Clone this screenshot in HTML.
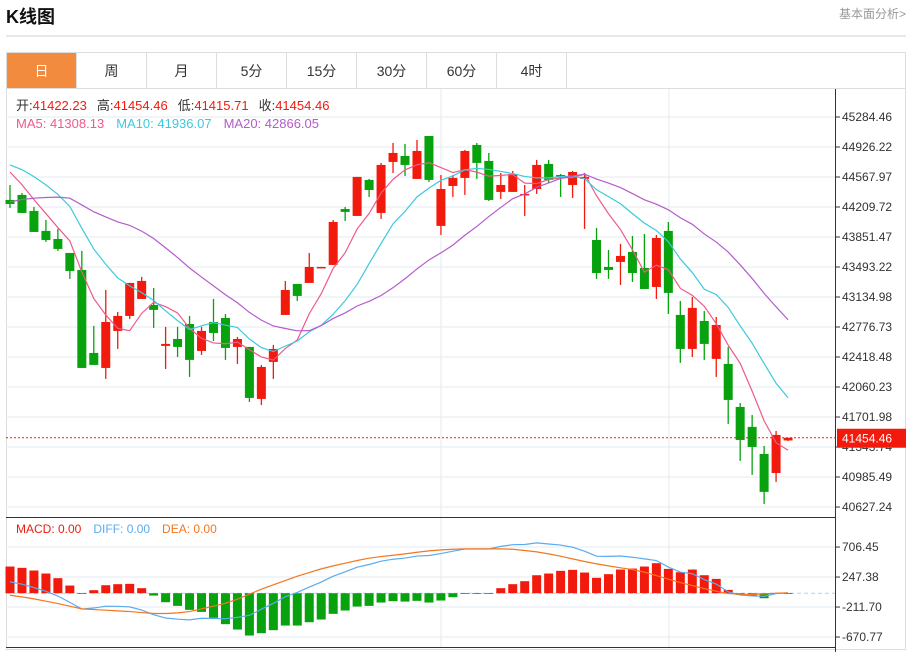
<!DOCTYPE html>
<html><head><meta charset="utf-8">
<style>
body{margin:0;background:#fff;width:911px;height:652px;overflow:hidden;font-family:"Liberation Sans","Noto Sans CJK SC",sans-serif;}
svg{position:absolute;left:0;top:0}
</style></head>
<body>
<svg id="c" width="911" height="652" xmlns="http://www.w3.org/2000/svg"></svg>
<script>
// ---- data ----
const categories = Array.from({length:66},(_,i)=>'D'+(i+1));
const opens  = [44294,44354,44163,43924,43828,43661,43458,42467,42288,42730,42909,43112,43040,42551,42634,42813,42491,42837,42885,42539,42539,41918,42360,42921,43291,43303,43482,43518,44186,44103,44533,44139,44748,44819,44545,45058,43984,44461,44557,44951,44760,44390,44390,44354,44425,44724,44592,44473,44545,43816,43494,43554,43673,43482,43255,43924,42921,42515,42849,42396,42336,41822,41584,41261,41034,41422.23];
const highs  = [44473,44378,44210,44055,43948,43661,43685,42790,43219,42957,43303,43375,43243,42778,42778,42909,42778,43112,42933,42658,42539,42324,42563,43327,43291,43661,43494,44055,44210,44569,44545,44736,44975,44963,45010,45058,44592,44592,44891,44975,44855,44616,44640,44473,44772,44772,44604,44640,44616,43960,43697,43769,43864,43888,43876,44031,43088,43136,42969,42897,42539,41870,41727,41357,41536,41454.46];
const lows   = [44198,44139,43912,43793,43685,43351,42288,42324,42157,42515,42873,43112,42766,42276,42419,42181,42443,42610,42384,42336,41882,41846,42157,42921,43088,43303,43482,43518,44043,44103,44330,44067,44616,44581,44545,44509,43876,44330,44354,44545,44282,44306,44390,44103,44366,44497,44330,44318,43948,43351,43351,43279,43315,43231,43112,42933,42348,42419,42384,42181,41619,41178,41011,40664,40927,41415.71];
const closes = [44246,44139,43912,43816,43709,43446,42288,42324,42837,42909,43303,43327,42981,42575,42539,42384,42730,42706,42527,42634,41930,42300,42515,43219,43148,43494,43494,44031,44151,44569,44413,44712,44855,44712,44879,44533,44425,44557,44879,44736,44294,44473,44604,44366,44712,44533,44569,44628,44569,43422,43458,43625,43422,43231,43840,43184,42515,43005,42575,42801,41906,41428,41345,40808,41488,41454.46];
// closes before the first visible bar (estimated from MA lines)
const priorCloses = [43550,43600,43650,43620,43700,43900,43980,44050,44100,44130,44700,44750,44800,44850,44880,44900,44800,44650,44544];
const priceTicks = ['45284.46','44926.22','44567.97','44209.72','43851.47','43493.22','43134.98','42776.73','42418.48','42060.23','41701.98','41343.74','40985.49','40627.24'];
const macdHist = [408,388,347,301,230,117,-5,46,122,138,143,77,-36,-138,-194,-255,-286,-377,-474,-556,-648,-612,-566,-495,-495,-444,-403,-316,-265,-204,-194,-143,-122,-128,-117,-143,-112,-61,-5,-3,-3,77,138,184,275,301,342,357,316,235,291,362,377,408,459,372,321,362,275,219,51,-26,-41,-77,-10,-4];
const deaVals = [-31,-56,-87,-122,-158,-199,-240,-250,-260,-270,-281,-296,-311,-311,-301,-281,-240,-199,-153,-92,-15,61,128,194,260,316,372,418,459,500,536,561,581,602,627,648,663,673,678,678,678,678,673,653,632,602,566,525,485,449,418,388,362,321,270,214,163,117,71,31,-5,-15,-20,-10,0,5];
const macdTicks = ['706.45','247.38','-211.70','-670.77'];

const svg=document.getElementById('c');
const NS='http://www.w3.org/2000/svg';
function mk(tag,attrs,parent){const e=document.createElementNS(NS,tag);for(const k in attrs)e.setAttribute(k,attrs[k]);(parent||svg).appendChild(e);return e;}
function txt(s,attrs){const e=mk('text',attrs);e.textContent=s;return e;}

// axis functions
const x=i=>10+i*11.97;
const yP=p=>117+(45284.46-p)/11.941;
const yM=v=>593.2-v/15.302;

// frame
let e;
e=txt('K线图',{x:6,y:23,'font-size':18,'font-weight':'bold',fill:'#111'});

e=txt('基本面分析>',{x:906,y:18,'font-size':12,fill:'#999','text-anchor':'end'});

mk('line',{x1:6,y1:36,x2:906,y2:36,stroke:'#d0d0d0','stroke-width':1});
mk('rect',{x:6.5,y:52.5,width:899,height:597,fill:'none',stroke:'#ddd'});
mk('line',{x1:6,y1:88.5,x2:906,y2:88.5,stroke:'#ddd'});
const tabs=['日','周','月','5分','15分','30分','60分','4时'];
tabs.forEach((t,i)=>{
  const g=mk('g',{});
  
  
  mk('rect',{x:7+i*70,y:53,width:69,height:35,fill:i===0?'#f28b3e':'#fff'},g);
  mk('line',{x1:76.5+i*70,y1:53,x2:76.5+i*70,y2:88,stroke:'#ddd'},g);
  const tt=mk('text',{x:41.5+i*70,y:76,'font-size':14,'text-anchor':'middle',fill:i===0?'#fff':'#333'},g);
  tt.textContent=t;
});

// grids
priceTicks.forEach((t,i)=>{
  const yy=yP(parseFloat(t));
  mk('line',{x1:6,y1:yy,x2:835,y2:yy,stroke:'#e4ebf1'});
  mk('line',{x1:835,y1:yy,x2:840,y2:yy,stroke:'#333'});
  const l=txt(t,{x:842,y:yy+4,'font-size':12,fill:'#333'});
  
  
});
macdTicks.forEach(t=>{
  const yy=yM(parseFloat(t));
  mk('line',{x1:6,y1:yy,x2:835,y2:yy,stroke:'#e4ebf1'});
  mk('line',{x1:835,y1:yy,x2:840,y2:yy,stroke:'#333'});
  const l=txt(t,{x:842,y:yy+4,'font-size':12,fill:'#333'});
  
  
});
[441,669].forEach(xx=>mk('line',{x1:xx,y1:89,x2:xx,y2:647,stroke:'#e4ebf1'}));
mk('line',{x1:835.5,y1:89,x2:835.5,y2:652,stroke:'#333'});
mk('line',{x1:6,y1:517.5,x2:835,y2:517.5,stroke:'#333'});
mk('line',{x1:6,y1:647.5,x2:835,y2:647.5,stroke:'#333'});
mk('line',{x1:6,y1:yM(0),x2:835,y2:yM(0),stroke:'#a8d8ee','stroke-dasharray':'4,3'});

// candles
for(let i=0;i<closes.length;i++){
  const up=closes[i]>=opens[i];
  const col=up?'#f21a0c':'#07a20d';
  const g=mk('g',{});
  
  
  mk('line',{x1:x(i),y1:yP(highs[i]),x2:x(i),y2:yP(lows[i]),stroke:col,'stroke-width':1.3},g);
  const t=yP(Math.max(opens[i],closes[i])),b=yP(Math.min(opens[i],closes[i]));
  mk('rect',{x:x(i)-4.5,y:t,width:9,height:Math.max(1.5,b-t),fill:col},g);
}
// MAs
const all=priorCloses.concat(closes);
function ma(n){return closes.map((_,i)=>{const j=i+priorCloses.length;let s=0;for(let k=j-n+1;k<=j;k++)s+=all[k];return s/n;});}
[[5,'#ef5a8a'],[10,'#3cc9dd'],[20,'#b45ccc']].forEach(([n,c])=>{
  const v=ma(n);
  const p=mk('polyline',{points:v.map((m,i)=>x(i)+','+yP(m)).join(' '),fill:'none',stroke:c,'stroke-width':1.2});
  
  
});
// current price
const last=closes[closes.length-1];
mk('line',{x1:6,y1:yP(last),x2:835,y2:yP(last),stroke:'#f21a0c','stroke-dasharray':'2,2'});
mk('rect',{x:837,y:yP(last)-9,width:69,height:19,fill:'#f21a0c'});
e=txt(last.toFixed(2),{x:842,y:yP(last)+5,'font-size':12,fill:'#fff'});


// MACD
macdHist.forEach((h,i)=>{
  const r=mk('rect',{x:x(i)-4.5,y:Math.min(yM(h),yM(0)),width:9,height:Math.max(0.8,Math.abs(yM(h)-yM(0))),fill:h>=0?'#f21a0c':'#07a20d'});
  
  
});
const diffVals=deaVals.map((d,i)=>d+macdHist[i]/2);
e=mk('polyline',{points:diffVals.map((v,i)=>x(i)+','+yM(v)).join(' '),fill:'none',stroke:'#5aabf0','stroke-width':1.2});

e=mk('polyline',{points:deaVals.map((v,i)=>x(i)+','+yM(v)).join(' '),fill:'none',stroke:'#f5761e','stroke-width':1.2});


// info texts
function info(items,y,name){
  const t=mk('text',{x:16,y:y,'font-size':13});
  
  
  items.forEach(([s,c,dx])=>{const ts=mk('tspan',{fill:c},t);if(dx)ts.setAttribute('dx',dx);ts.textContent=s;});
}
info([['开:','#333'],['41422.23','#f21a0c'],['高:','#333',10],['41454.46','#f21a0c'],['低:','#333',10],['41415.71','#f21a0c'],['收:','#333',10],['41454.46','#f21a0c']],110,'ohlc-info');
info([['MA5: 41308.13','#ef5a8a'],['MA10: 41936.07','#3cc9dd',12],['MA20: 42866.05','#b45ccc',12]],128,'ma-legend');
const m=mk('text',{x:16,y:533,'font-size':12});


[['MACD: 0.00','#f21a0c',0],['DIFF: 0.00','#5aabf0',12],['DEA: 0.00','#f5761e',12]].forEach(([s,c,dx])=>{const ts=mk('tspan',{fill:c,dx:dx},m);ts.textContent=s;});
</script>
</body></html>
